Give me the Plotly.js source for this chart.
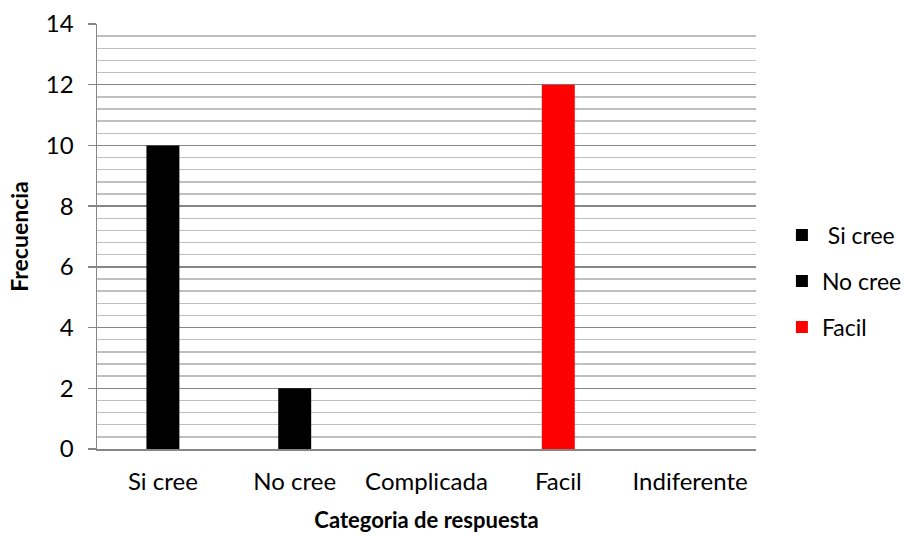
<!DOCTYPE html>
<html><head><meta charset="utf-8">
<script src="https://cdn.plot.ly/plotly-3.0.1.min.js"></script>
<style>html,body{margin:0;padding:0;background:#fff}#c{width:905px;height:536px}</style>
</head><body><div id="c"></div>
<script>
const categories = ['Si cree', 'No cree', 'Complicada', 'Facil', 'Indiferente'];
const seriesNames = ['\u00a0Si cree', 'No cree', 'Facil'];
const siCree = [10, null, null, null, null];
const noCree = [null, 2, null, null, null];
const facil = [null, null, null, 12, null];
const colors = ['#000000', '#000000', '#ff0000'];
const FONT = 'Lato, "Open Sans", sans-serif';

const series = [siCree, noCree, facil];
const data = series.map((vals, i) => ({
  type: 'bar', x: categories, y: vals, name: seriesNames[i],
  marker: {color: colors[i], line: {width: 0}}, width: 0.25,
  legendgroup: 'g' + i
}));

const layout = {
  width: 905, height: 536,
  margin: {l: 97, r: 149, t: 24, b: 87, autoexpand: false},
  paper_bgcolor: '#fff', plot_bgcolor: '#fff',
  barmode: 'overlay',
  font: {family: FONT, size: 24, color: '#000'},
  xaxis: {
    type: 'category', showline: true, linecolor: '#868686', linewidth: 1.5,
    ticks: '', ticklabelstandoff: 11, showgrid: false,
    title: {text: '<b>Categoria de respuesta</b>', font: {size: 22}, standoff: 18}
  },
  yaxis: {
    range: [0, 14], dtick: 2, showline: true, linecolor: '#868686', linewidth: 1.5,
    ticks: 'outside', ticklen: 8, tickcolor: '#868686', tickwidth: 1.5,
    ticklabelstandoff: 9,
    showgrid: true, gridcolor: '#868686', gridwidth: 1.5, zeroline: false,
    minor: {dtick: 0.4, showgrid: true, gridcolor: '#bfbfbf', gridwidth: 1.5},
    title: {text: '<b>Frecuencia</b>', font: {size: 23}, standoff: 11}
  },
  showlegend: true,
  legend: {xref: 'container', x: 0.864, xanchor: 'left', y: 0.395, yanchor: 'middle',
    font: {size: 23}, traceorder: 'grouped', tracegroupgap: 13,
    itemwidth: 30, bgcolor: 'rgba(0,0,0,0)'}
};
Plotly.newPlot('c', data, layout, {displayModeBar: false, staticPlot: true});
</script></body></html>
